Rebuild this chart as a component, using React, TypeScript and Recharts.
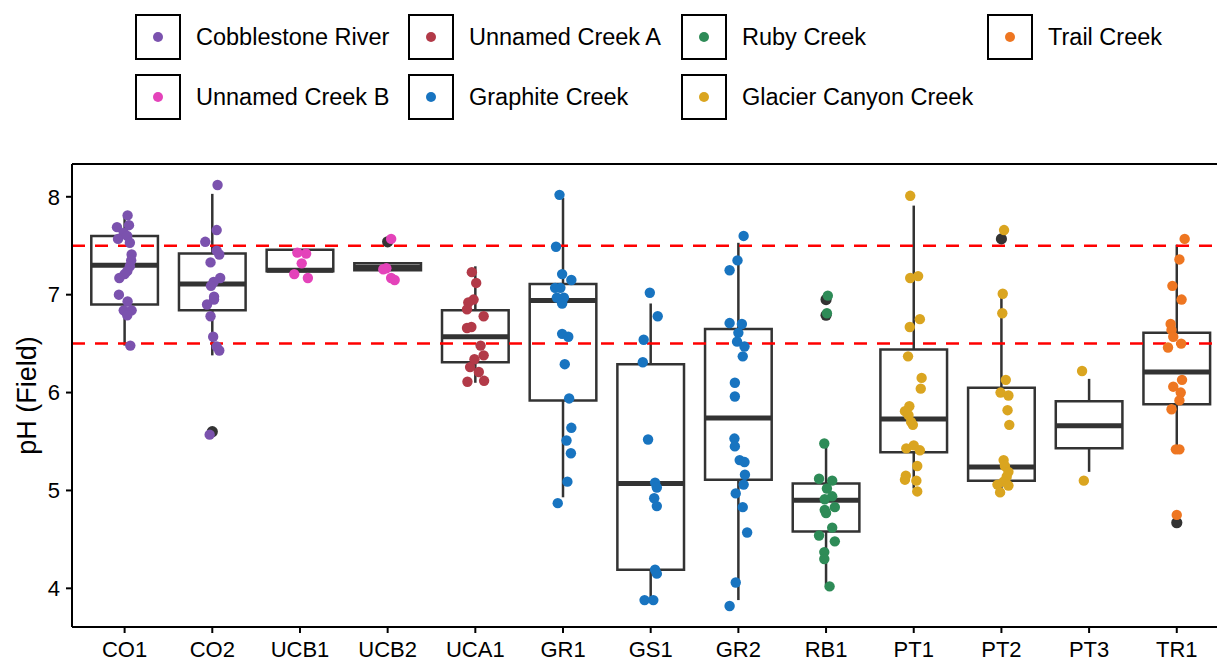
import React from "react";
import { ScatterChart, Scatter, XAxis, YAxis, ReferenceArea, ReferenceLine, Legend } from "recharts";

// sampling sites along the x axis, and the stream each one belongs to
const sites = ["CO1", "CO2", "UCB1", "UCB2", "UCA1", "GR1", "GS1", "GR2", "RB1", "PT1", "PT2", "PT3", "TR1"];
const siteStream = [
  "Cobblestone River", "Cobblestone River", "Unnamed Creek B", "Unnamed Creek B", "Unnamed Creek A",
  "Graphite Creek", "Graphite Creek", "Graphite Creek", "Ruby Creek",
  "Glacier Canyon Creek", "Glacier Canyon Creek", "Glacier Canyon Creek", "Trail Creek",
];

const streams = [
  "Cobblestone River", "Unnamed Creek A", "Ruby Creek", "Trail Creek",
  "Unnamed Creek B", "Graphite Creek", "Glacier Canyon Creek",
];
const streamColors: Record<string, string> = {
  "Cobblestone River": "#7B52AE",
  "Unnamed Creek A": "#B23A48",
  "Ruby Creek": "#2E8B57",
  "Trail Creek": "#EE7621",
  "Unnamed Creek B": "#E443BA",
  "Graphite Creek": "#1874C0",
  "Glacier Canyon Creek": "#DAA520",
};

// box statistics per site (same order as sites)
const q1 = [6.9, 6.84, 7.24, 7.25, 6.31, 5.92, 4.19, 5.11, 4.58, 5.39, 5.1, 5.43, 5.88];
const median = [7.3, 7.11, 7.25, 7.28, 6.57, 6.94, 5.07, 5.74, 4.9, 5.73, 5.24, 5.66, 6.21];
const q3 = [7.6, 7.42, 7.46, 7.32, 6.84, 7.11, 6.29, 6.65, 5.07, 6.44, 6.05, 5.91, 6.61];
const whiskerLo = [6.48, 6.38, 7.24, 7.25, 6.1, 4.93, 3.88, 3.88, 4.03, 5.02, 4.98, 5.19, 5.38];
const whiskerHi = [7.79, 8.03, 7.46, 7.32, 7.29, 7.99, 6.91, 7.53, 5.44, 7.91, 6.97, 6.14, 7.51];

const outliers: [string, number][] = [
  ["CO2", 5.6], ["UCB2", 7.54], ["RB1", 6.95], ["RB1", 6.79], ["PT2", 7.57], ["TR1", 4.67],
];

// field measurements: [horizontal jitter, pH]
const readings: Record<string, [number, number][]> = {
  CO1: [[0.034, 7.81], [-0.087, 7.69], [0.05, 7.71], [-0.01, 7.63], [-0.075, 7.57], [0.03, 7.6], [0.06, 7.53],
    [0.08, 7.41], [0.075, 7.35], [0.06, 7.29], [0.03, 7.24], [0.0, 7.21], [-0.06, 7.17], [-0.065, 7.0],
    [0.034, 6.93], [-0.01, 6.84], [0.08, 6.84], [0.03, 6.79], [0.065, 6.48]],
  CO2: [[0.06, 8.12], [0.05, 7.66], [-0.08, 7.54], [0.05, 7.45], [0.08, 7.41], [-0.02, 7.33], [0.09, 7.17],
    [0.015, 7.13], [-0.015, 7.09], [0.02, 6.98], [0.02, 6.95], [-0.06, 6.9], [-0.02, 6.78], [0.01, 6.57],
    [0.05, 6.47], [0.08, 6.43], [-0.03, 5.57]],
  UCB1: [[-0.03, 7.43], [0.07, 7.42], [0.02, 7.32], [-0.065, 7.21], [0.09, 7.17]],
  UCB2: [[0.04, 7.57], [-0.015, 7.27], [-0.05, 7.26], [0.04, 7.17], [0.08, 7.15]],
  UCA1: [[-0.04, 7.23], [0.01, 7.12], [-0.02, 6.95], [-0.08, 6.92], [-0.095, 6.85], [0.095, 6.78], [-0.045, 6.67],
    [-0.095, 6.66], [0.06, 6.48], [0.095, 6.38], [-0.01, 6.34], [-0.06, 6.26], [0.04, 6.21], [0.1, 6.12], [-0.09, 6.11]],
  GR1: [[-0.04, 8.02], [-0.08, 7.49], [-0.01, 7.21], [0.095, 7.15], [-0.09, 7.07], [-0.03, 7.07], [-0.07, 6.97],
    [0.01, 6.97], [-0.01, 6.91], [-0.01, 6.6], [0.06, 6.57], [0.02, 6.29], [0.07, 5.94], [0.095, 5.64],
    [0.04, 5.51], [0.09, 5.38], [0.05, 5.09], [-0.06, 4.87]],
  GS1: [[-0.01, 7.02], [0.08, 6.78], [-0.08, 6.54], [-0.09, 6.31], [-0.03, 5.52], [0.05, 5.08], [0.07, 5.03],
    [0.04, 4.92], [0.07, 4.84], [0.05, 4.19], [0.07, 4.15], [-0.07, 3.88], [0.03, 3.88]],
  GR2: [[0.06, 7.6], [-0.01, 7.35], [-0.1, 7.25], [-0.1, 6.71], [0.04, 6.7], [0.0, 6.61], [-0.015, 6.52],
    [0.07, 6.47], [0.05, 6.37], [-0.04, 6.1], [-0.04, 5.96], [-0.045, 5.53], [-0.04, 5.45], [0.015, 5.31],
    [0.07, 5.29], [0.075, 5.16], [0.06, 5.06], [-0.03, 4.97], [0.05, 4.83], [0.1, 4.57], [-0.03, 4.06], [-0.1, 3.82]],
  RB1: [[0.02, 6.99], [0.01, 6.81], [-0.02, 5.48], [-0.08, 5.12], [0.07, 5.1], [0.01, 5.02], [0.07, 4.94],
    [-0.015, 4.91], [0.1, 4.83], [-0.015, 4.8], [0.0, 4.77], [0.07, 4.62], [-0.08, 4.54], [0.1, 4.48],
    [-0.02, 4.37], [-0.02, 4.3], [0.04, 4.02]],
  PT1: [[-0.04, 8.01], [-0.04, 7.17], [0.05, 7.19], [0.07, 6.75], [-0.045, 6.67], [-0.065, 6.37], [0.09, 6.15],
    [0.08, 6.04], [-0.05, 5.86], [-0.1, 5.81], [-0.06, 5.77], [-0.03, 5.7], [-0.01, 5.67], [0.0, 5.46],
    [-0.085, 5.43], [0.07, 5.41], [0.04, 5.25], [-0.09, 5.15], [-0.1, 5.11], [0.03, 5.1], [0.04, 4.99]],
  PT2: [[0.03, 7.66], [0.015, 7.01], [0.01, 6.81], [0.05, 6.13], [-0.01, 6.0], [0.08, 5.97], [0.07, 5.82],
    [0.09, 5.67], [0.025, 5.31], [0.04, 5.25], [0.08, 5.19], [0.06, 5.14], [0.025, 5.09], [-0.045, 5.06],
    [0.08, 5.05], [-0.015, 4.98]],
  PT3: [[-0.08, 6.22], [-0.06, 5.1]],
  TR1: [[0.09, 7.57], [0.03, 7.36], [-0.05, 7.09], [0.055, 6.95], [-0.07, 6.7], [-0.06, 6.64], [-0.04, 6.57],
    [0.05, 6.5], [-0.1, 6.46], [0.06, 6.13], [-0.04, 6.06], [0.045, 6.0], [0.03, 5.92], [-0.06, 5.83],
    [-0.01, 5.42], [0.03, 5.42], [0.0, 4.75]],
};

const guideLines = [6.5, 7.5];
const yTicks = [4, 5, 6, 7, 8];
const yDomain: [number, number] = [3.605, 8.335];

const W = 1217;
const H = 654;
const BOX_HALF = 0.38;
const FONT = "'Liberation Sans', Arial, Helvetica, sans-serif";
const INK = "#333333";

const legendRows = [
  ["Cobblestone River", "Unnamed Creek A", "Ruby Creek", "Trail Creek"],
  ["Unnamed Creek B", "Graphite Creek", "Glacier Canyon Creek"],
];
const legendCols = [127, 400, 673, 979];
const legendRowTops = [6, 66];

function LegendBlock() {
  return (
    <div style={{ position: "relative", width: W, height: 130, fontFamily: FONT }}>
      {legendRows.map((row, r) =>
        row.map((name, c) => (
          <div key={name} style={{ position: "absolute", left: legendCols[c], top: legendRowTops[r], display: "flex", alignItems: "center" }}>
            <div style={{ width: 46, height: 46, boxSizing: "border-box", border: "2.5px solid #000", display: "flex", alignItems: "center", justifyContent: "center" }}>
              <div style={{ width: 10, height: 10, borderRadius: 5, background: streamColors[name] }} />
            </div>
            <span style={{ marginLeft: 15, fontSize: 23.5, color: "#000", whiteSpace: "nowrap" }}>{name}</span>
          </div>
        ))
      )}
    </div>
  );
}

const dot = (color: string, r: number) => (p: any) => <circle cx={p.cx} cy={p.cy} r={r} fill={color} />;

export default function App() {
  const series = streams.map((s) => ({
    name: s,
    color: streamColors[s],
    points: sites.flatMap((site, i) =>
      siteStream[i] === s ? readings[site].map(([dx, y]) => ({ x: i + dx, y })) : []
    ),
  }));
  const outlierPts = outliers.map(([site, y]) => ({ x: sites.indexOf(site), y }));

  return (
    <div style={{ width: W, height: H, fontFamily: FONT }}>
      <ScatterChart width={W} height={H} margin={{ top: 156, right: 0, bottom: 8, left: 0 }}>
        <XAxis
          type="number"
          dataKey="x"
          domain={[-0.6, 12.55]}
          allowDataOverflow
          ticks={sites.map((_, i) => i)}
          interval={0}
          tickFormatter={(v: number) => sites[v]}
          height={27}
          tickSize={6}
          tickMargin={8}
          axisLine={{ stroke: "#000", strokeWidth: 2 }}
          tickLine={{ stroke: "#000", strokeWidth: 2 }}
          tick={{ fontSize: 22, fill: "#000" }}
        />
        <YAxis
          type="number"
          dataKey="y"
          domain={yDomain}
          allowDataOverflow
          ticks={yTicks}
          width={64}
          tickSize={6}
          tickMargin={6}
          axisLine={{ stroke: "#000", strokeWidth: 2 }}
          tickLine={{ stroke: "#000", strokeWidth: 2 }}
          tick={{ fontSize: 22, fill: "#000" }}
          label={{
            content: ({ viewBox }: any) => (
              <text
                transform={`translate(${viewBox.x + 19}, ${viewBox.y + viewBox.height / 2}) rotate(-90)`}
                textAnchor="middle"
                dominantBaseline="central"
                fontSize={27}
                fill="#000"
              >
                pH (Field)
              </text>
            ),
          }}
        />
        <Legend verticalAlign="middle" align="center" wrapperStyle={{ top: 0, left: 0, width: W, height: 130 }} content={() => <LegendBlock />} />

        {sites.map((s, i) => (
          <ReferenceLine key={`wu-${s}`} segment={[{ x: i, y: q3[i] }, { x: i, y: whiskerHi[i] }]} stroke={INK} strokeWidth={2.5} ifOverflow="visible" />
        ))}
        {sites.map((s, i) => (
          <ReferenceLine key={`wl-${s}`} segment={[{ x: i, y: whiskerLo[i] }, { x: i, y: q1[i] }]} stroke={INK} strokeWidth={2.5} ifOverflow="visible" />
        ))}
        {sites.map((s, i) => (
          <ReferenceArea key={`box-${s}`} x1={i - BOX_HALF} x2={i + BOX_HALF} y1={q1[i]} y2={q3[i]} fill="#fff" fillOpacity={1} stroke={INK} strokeWidth={2.5} ifOverflow="visible" />
        ))}
        {sites.map((s, i) => (
          <ReferenceLine key={`med-${s}`} segment={[{ x: i - BOX_HALF, y: median[i] }, { x: i + BOX_HALF, y: median[i] }]} stroke={INK} strokeWidth={5} ifOverflow="visible" />
        ))}
        {guideLines.map((g) => (
          <ReferenceLine key={`g-${g}`} y={g} stroke="#FF0000" strokeWidth={2.5} strokeDasharray="13 10" />
        ))}
        <ReferenceLine y={yDomain[1]} stroke="#000" strokeWidth={2} ifOverflow="visible" />

        <Scatter name="outliers" data={outlierPts} legendType="none" shape={dot(INK, 5.6)} isAnimationActive={false} />
        {series.map((s) => (
          <Scatter key={s.name} name={s.name} data={s.points} fill={s.color} shape={dot(s.color, 5.2)} isAnimationActive={false} />
        ))}
      </ScatterChart>
    </div>
  );
}
